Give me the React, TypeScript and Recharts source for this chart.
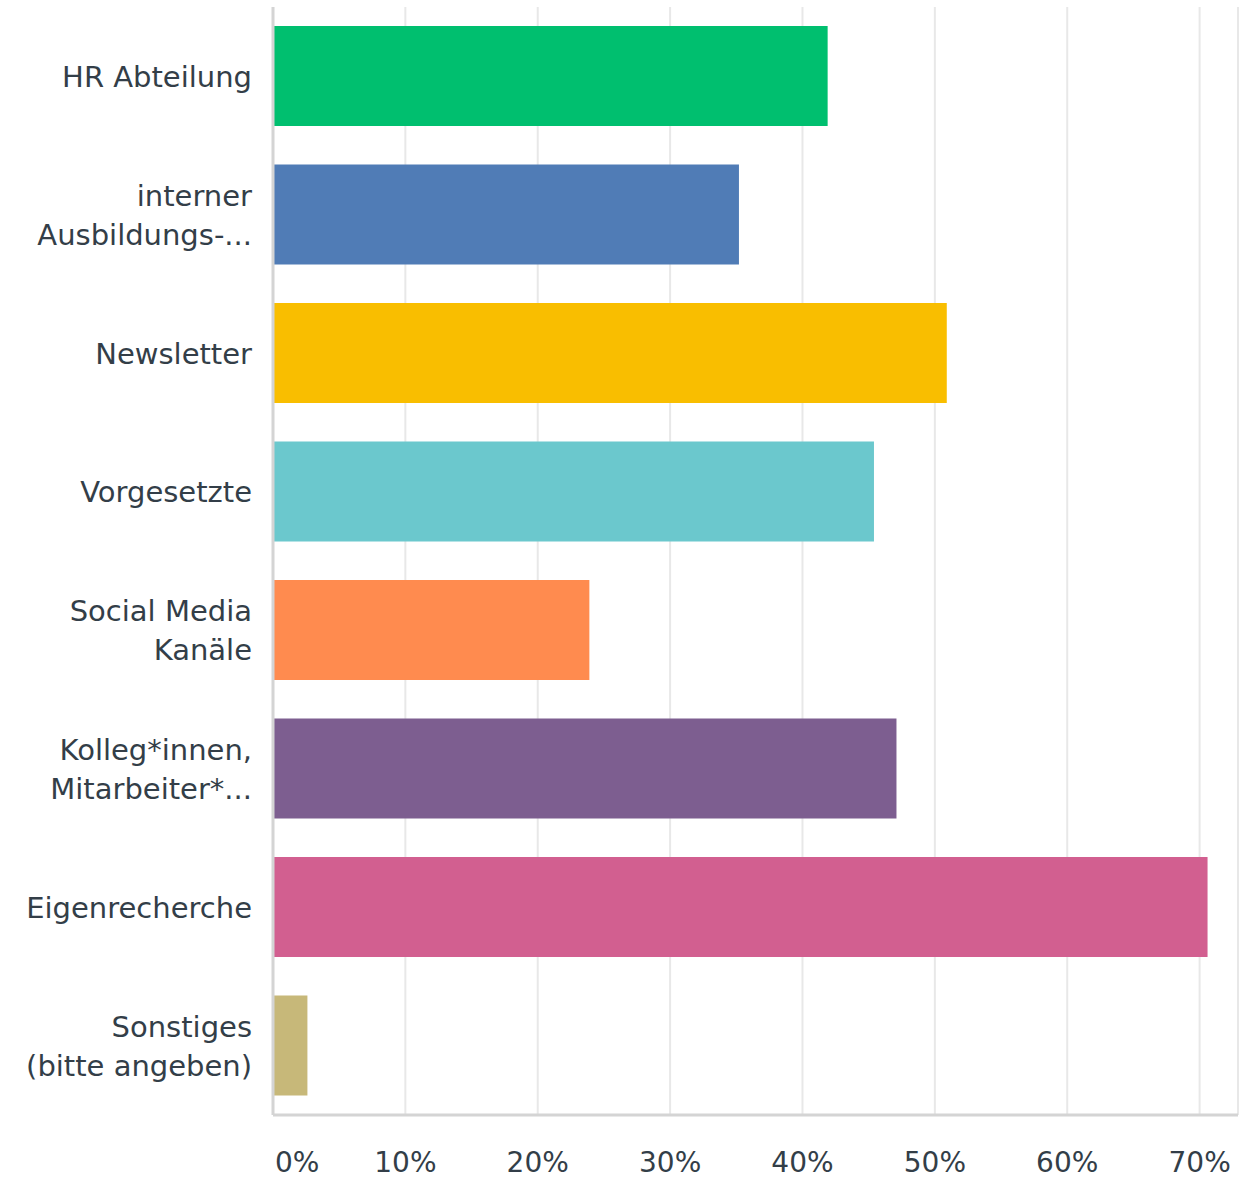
import { BarChart, Bar, XAxis, YAxis, CartesianGrid, Cell } from 'recharts'

const categories = [
  'HR Abteilung',
  'interner\nAusbildungs-...',
  'Newsletter',
  'Vorgesetzte',
  'Social Media\nKanäle',
  'Kolleg*innen,\nMitarbeiter*...',
  'Eigenrecherche',
  'Sonstiges\n(bitte angeben)',
]
const shares = [41.9, 35.2, 50.9, 45.4, 23.9, 47.1, 70.6, 2.6]
const colors = ['#00BF6F', '#507CB6', '#F9BE00', '#6BC8CD', '#FF8B4F', '#7D5E90', '#D25F90', '#C7B879']
const xTicks = [0, 10, 20, 30, 40, 50, 60, 70]

const data = categories.map((name, i) => ({ name, value: shares[i] }))

const FONT = '"DejaVu Sans", sans-serif'
const TEXT = '#333e48'

function CategoryTick({ x, y, payload }: any) {
  const lines = String(payload.value).split('\n')
  const lh = 39
  const start = y - ((lines.length - 1) * lh) / 2
  return (
    <text x={x - 21} textAnchor="end" fill={TEXT} fontSize={29} fontFamily={FONT}>
      {lines.map((l, i) => (
        <tspan key={i} x={x - 21} y={start + i * lh} dy="0.36em">
          {l}
        </tspan>
      ))}
    </text>
  )
}

function PercentTick({ x, y, payload }: any) {
  const first = payload.value === 0
  return (
    <text
      x={first ? x + 2 : x}
      y={y + 55}
      textAnchor={first ? 'start' : 'middle'}
      fill={TEXT}
      fontSize={28}
      fontFamily={FONT}
    >
      {payload.value}%
    </text>
  )
}

export default function App() {
  return (
    <div style={{ width: 1258, height: 1180 }}>
      <style>{'body{margin:0}'}</style>
      <BarChart
        width={1258}
        height={1180}
        data={data}
        layout="vertical"
        margin={{ top: 7, right: 20, left: 0, bottom: 0 }}
        barSize={100}
      >
        <CartesianGrid horizontal={false} stroke="#e8e8e8" strokeWidth={2} />
        <XAxis
          type="number"
          domain={[0, 72.9]}
          ticks={xTicks}
          height={65}
          axisLine={{ stroke: '#d4d4d4', strokeWidth: 3 }}
          tickLine={false}
          tickSize={0}
          tick={<PercentTick />}
          interval={0}
        />
        <YAxis
          type="category"
          dataKey="name"
          width={273}
          axisLine={{ stroke: '#d4d4d4', strokeWidth: 3 }}
          tickLine={false}
          tickSize={0}
          tickMargin={0}
          tick={<CategoryTick />}
          interval={0}
        />
        <Bar dataKey="value" isAnimationActive={false}>
          {data.map((d, i) => (
            <Cell key={d.name} fill={colors[i]} />
          ))}
        </Bar>
      </BarChart>
    </div>
  )
}
